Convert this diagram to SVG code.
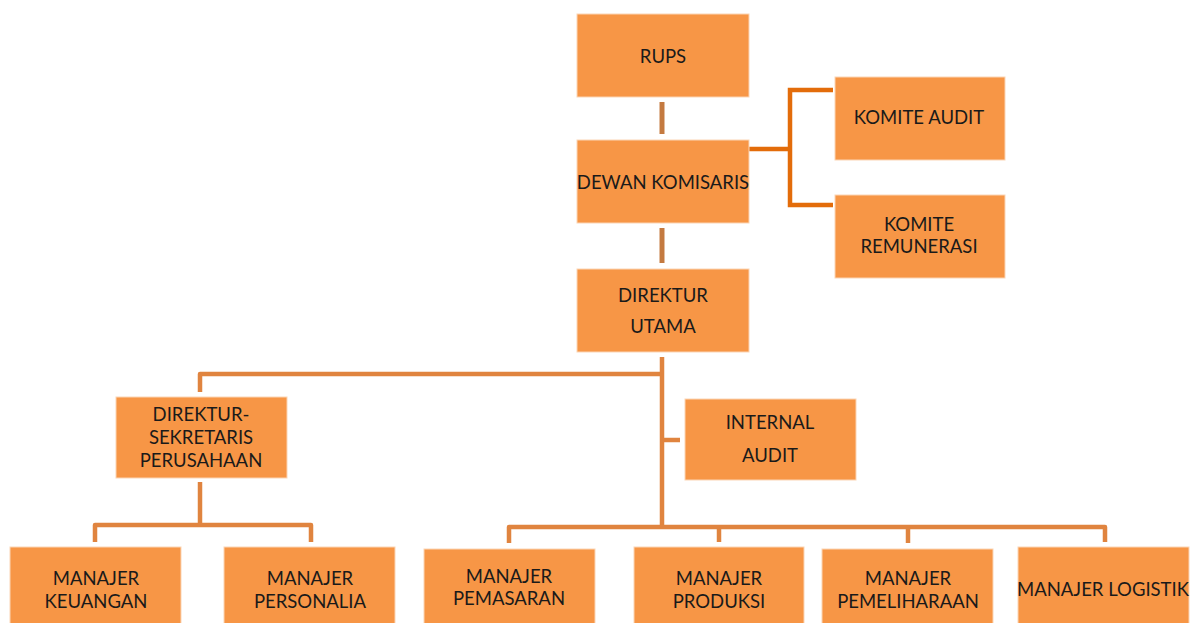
<svg xmlns="http://www.w3.org/2000/svg" width="1190" height="623" viewBox="0 0 1190 623">
<style>
.box{fill:#f79646;stroke:#fbd5b5;stroke-width:1}
.t{font-family:Lato,"Liberation Sans",sans-serif;font-size:18.5px;fill:#1a1a1a;text-anchor:middle;dominant-baseline:central}
.c{fill:none;stroke:#e0843f;stroke-width:4.5;stroke-linejoin:round}
.cd{fill:none;stroke:#c47a40;stroke-width:5}
.ck{fill:none;stroke:#e36c0a;stroke-width:4.5}
</style>
<rect width="1190" height="623" fill="#ffffff"/>
<g id="connectors">
<line class="cd" x1="662" y1="102" x2="662" y2="134"/>
<line class="cd" x1="662" y1="228" x2="662" y2="263"/>
<polyline class="ck" points="749,149 790,149"/>
<polyline class="ck" points="833,90 790,90 790,205 833,205"/>
<polyline class="c" points="200,392 200,374 662,374"/>
<line class="c" x1="662" y1="357" x2="662" y2="527"/>
<line class="c" x1="662" y1="440" x2="680" y2="440"/>
<line class="c" x1="200" y1="482" x2="200" y2="525"/>
<polyline class="c" points="95,542 95,525 311,525 311,542"/>
<polyline class="c" points="509,543 509,527 1105,527 1105,542"/>
<line class="c" x1="719" y1="527" x2="719" y2="542"/>
<line class="c" x1="908" y1="527" x2="908" y2="543"/>
</g>
<g id="rups"><rect class="box" x="577" y="14" width="172" height="83"/><text class="t" x="663" y="56">RUPS</text></g>
<g id="dewan-komisaris"><rect class="box" x="577" y="140" width="172" height="83"/><text class="t" x="663" y="182">DEWAN KOMISARIS</text></g>
<g id="komite-audit"><rect class="box" x="835" y="77" width="170" height="83"/><text class="t" x="919" y="117">KOMITE AUDIT</text></g>
<g id="komite-remunerasi"><rect class="box" x="835" y="195" width="170" height="83"/><text class="t" x="919" y="224">KOMITE</text><text class="t" x="919" y="246">REMUNERASI</text></g>
<g id="direktur-utama"><rect class="box" x="577" y="269" width="172" height="83"/><text class="t" x="663" y="295">DIREKTUR</text><text class="t" x="663" y="326">UTAMA</text></g>
<g id="direktur-sekretaris"><rect class="box" x="116" y="397" width="171" height="81"/><text class="t" x="201" y="414">DIREKTUR-</text><text class="t" x="201" y="437">SEKRETARIS</text><text class="t" x="201" y="460">PERUSAHAAN</text></g>
<g id="internal-audit"><rect class="box" x="685" y="399" width="171" height="81"/><text class="t" x="770" y="422">INTERNAL</text><text class="t" x="770" y="455">AUDIT</text></g>
<g id="manajer-keuangan"><rect class="box" x="10" y="547" width="171" height="80"/><text class="t" x="96" y="578">MANAJER</text><text class="t" x="96" y="601">KEUANGAN</text></g>
<g id="manajer-personalia"><rect class="box" x="224" y="547" width="171" height="80"/><text class="t" x="310" y="578">MANAJER</text><text class="t" x="310" y="601">PERSONALIA</text></g>
<g id="manajer-pemasaran"><rect class="box" x="424" y="549" width="171" height="80"/><text class="t" x="509" y="576">MANAJER</text><text class="t" x="509" y="598">PEMASARAN</text></g>
<g id="manajer-produksi"><rect class="box" x="634" y="547" width="170" height="80"/><text class="t" x="719" y="578">MANAJER</text><text class="t" x="719" y="601">PRODUKSI</text></g>
<g id="manajer-pemeliharaan"><rect class="box" x="822" y="549" width="171" height="80"/><text class="t" x="908" y="578">MANAJER</text><text class="t" x="908" y="601">PEMELIHARAAN</text></g>
<g id="manajer-logistik"><rect class="box" x="1018" y="547" width="171" height="80"/><text class="t" x="1103" y="589">MANAJER LOGISTIK</text></g>
</svg>
